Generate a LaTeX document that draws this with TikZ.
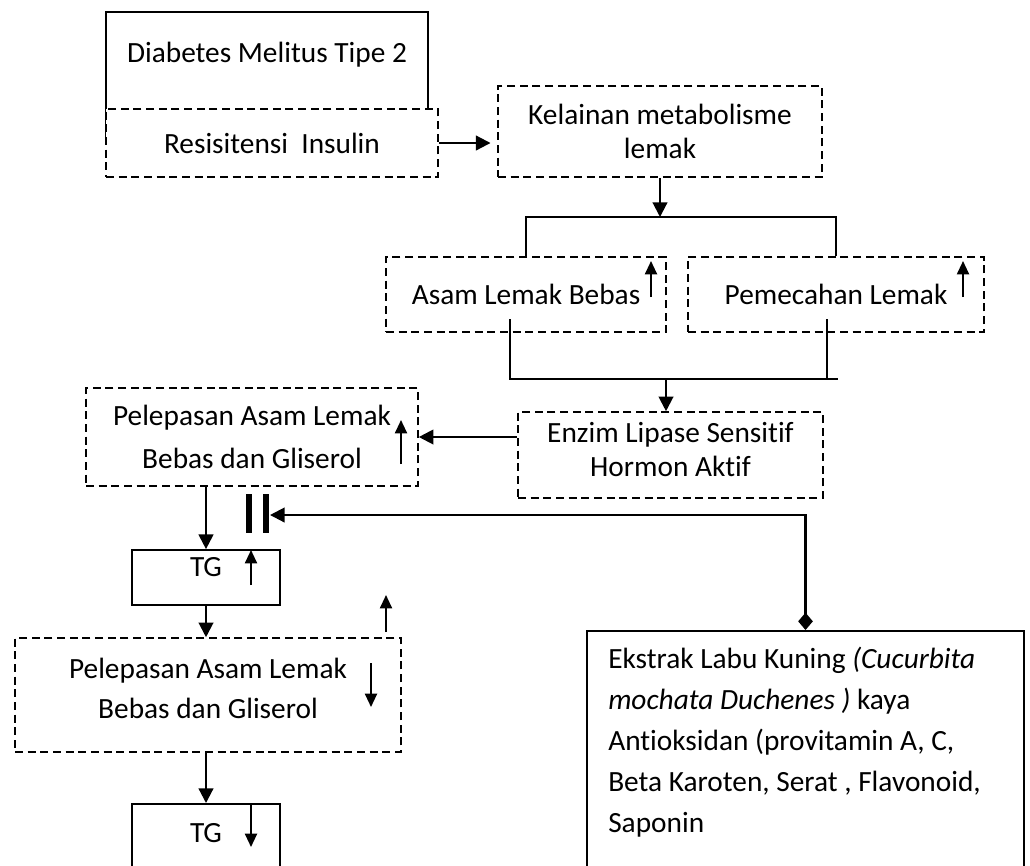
\documentclass[tikz,border=0pt]{standalone}
\usepackage{fontspec}
\setmainfont{Carlito}[Ligatures=NoCommon]
\usetikzlibrary{positioning, arrows.meta}

\tikzset{
  dbox/.style={draw, dash pattern=on 6pt off 3.5pt, line width=1.2pt, rectangle, inner sep=0pt, align=center, fill=white},
  sbox/.style={draw, line width=1.3pt, rectangle, inner sep=0pt, align=center},
  arr/.style={-{Triangle[length=11pt,width=11pt]}, line width=1.6pt},
  ind/.style={-{Triangle[length=10pt,width=9pt]}, line width=1.5pt},
  link/.style={line width=1.3pt},
  bar/.style={line width=5pt},
}

\begin{document}
\begin{tikzpicture}[x=0.75pt, y=-0.75pt, every node/.style={font=\fontsize{22}{25.5}\selectfont}]
		\useasboundingbox (0,0) rectangle (1030,865);
		\clip (0,0) rectangle (1030,865);

		% nodes %
		\node[sbox, anchor=north, minimum width=241.5pt, minimum height=97.5pt] (dm) at (267,11) {};
		\node[below=20pt of dm.north] (dmtxt) {Diabetes Melitus Tipe 2};
		\node[dbox, minimum width=249pt, minimum height=51pt] (res) at (272,143) {Resisitensi\ \ Insulin};
		\node[dbox, minimum width=243pt, minimum height=68.25pt] (kel) at (660,131.5) {Kelainan metabolisme\\lemak};
		\node[dbox, minimum width=210pt, minimum height=56.25pt] (asam) at (526,294.5) {Asam Lemak Bebas};
		\node[dbox, minimum width=222pt, minimum height=56.25pt] (pem) at (836,294.5) {Pemecahan Lemak};
		\node[dbox, minimum width=228.75pt, minimum height=64.5pt] (enz) at (670.5,455) {};
		\node[align=center] (enztxt) at (670.5,450) {Enzim Lipase Sensitif\\Hormon Aktif};
		\node[dbox, minimum width=249pt, minimum height=73.5pt, font=\fontsize{22}{32}\selectfont] (pel1) at (252,437) {Pelepasan Asam Lemak\\Bebas dan Gliserol};
		\node[sbox, minimum width=111pt, minimum height=41.25pt] (tg1) at (206,577.5) {};
		\node (tg1txt) at (206,567) {TG};
		\node[dbox, minimum width=289.5pt, minimum height=85.5pt] (pel2) at (208,695) {};
		\node[align=center, font=\fontsize{22}{30}\selectfont] (pel2txt) at (208,688) {Pelepasan Asam Lemak\\Bebas dan Gliserol};
		\node[sbox, anchor=north, minimum width=111pt, minimum height=75pt] (tg2) at (206,803) {};
		\node (tg2txt) at (206,833) {TG};
		\node[sbox, anchor=north, minimum width=327.75pt, minimum height=225pt] (ek) at (805.5,630) {};
		\node[anchor=north west, inner sep=0pt, align=left, font=\fontsize{22}{30.75}\selectfont] (ektxt) at (608,647)
			{Ekstrak Labu Kuning \textit{(Cucurbita}\\
			\textit{mochata Duchenes )} kaya\\
			Antioksidan (provitamin A, C,\\
			Beta Karoten, Serat , Flavonoid,\\
			Saponin};

		\coordinate (split) at (660,217);
		\coordinate (a1) at (510,319);
		\coordinate (p1) at (827,319);
		\coordinate (join) at (666,379);
		\coordinate (inh) at (270,515);

		% edges %
		\draw[arr, shorten >=5pt] (res.east) -- (res.east -| kel.west);
		\draw[arr] (kel.south) -- (split);
		\draw[link] (asam.north) |- (split) -| (pem.north);
		\draw[link] (a1) |- (838,379);
		\draw[link] (p1) -- (p1 |- join);
		\draw[arr] (join) -- (join |- enz.north);
		\draw[arr] (enz.west |- pel1.east) -- (pel1.east);
		\draw[arr] (pel1.south -| tg1.north) -- (tg1.north);
		\draw[arr] (tg1.south) -- (tg1.south |- pel2.north);
		\draw[arr] (pel2.south -| tg2.north) -- (tg2.north);
		\draw[{Diamond[length=13pt,width=11pt]}-{Triangle[length=11pt,width=11pt]}, line width=1.6pt] (ek.north) |- (inh);

		% inhibition bars %
		\draw[bar] (249,494) -- (249,533);
		\draw[bar] (266,494) -- (266,533);

		% up / down marks %
		\draw[ind] (651,297) -- (651,261);
		\draw[ind] (963,297) -- (963,261);
		\draw[ind] (401,464) -- (401,420);
		\draw[ind] (251,585) -- (251,550);
		\draw[ind] (386,632) -- (386,595);
		\draw[ind] (371,663) -- (371,707);
		\draw[ind] (251,803) -- (251,847);
\end{tikzpicture}
\end{document}
